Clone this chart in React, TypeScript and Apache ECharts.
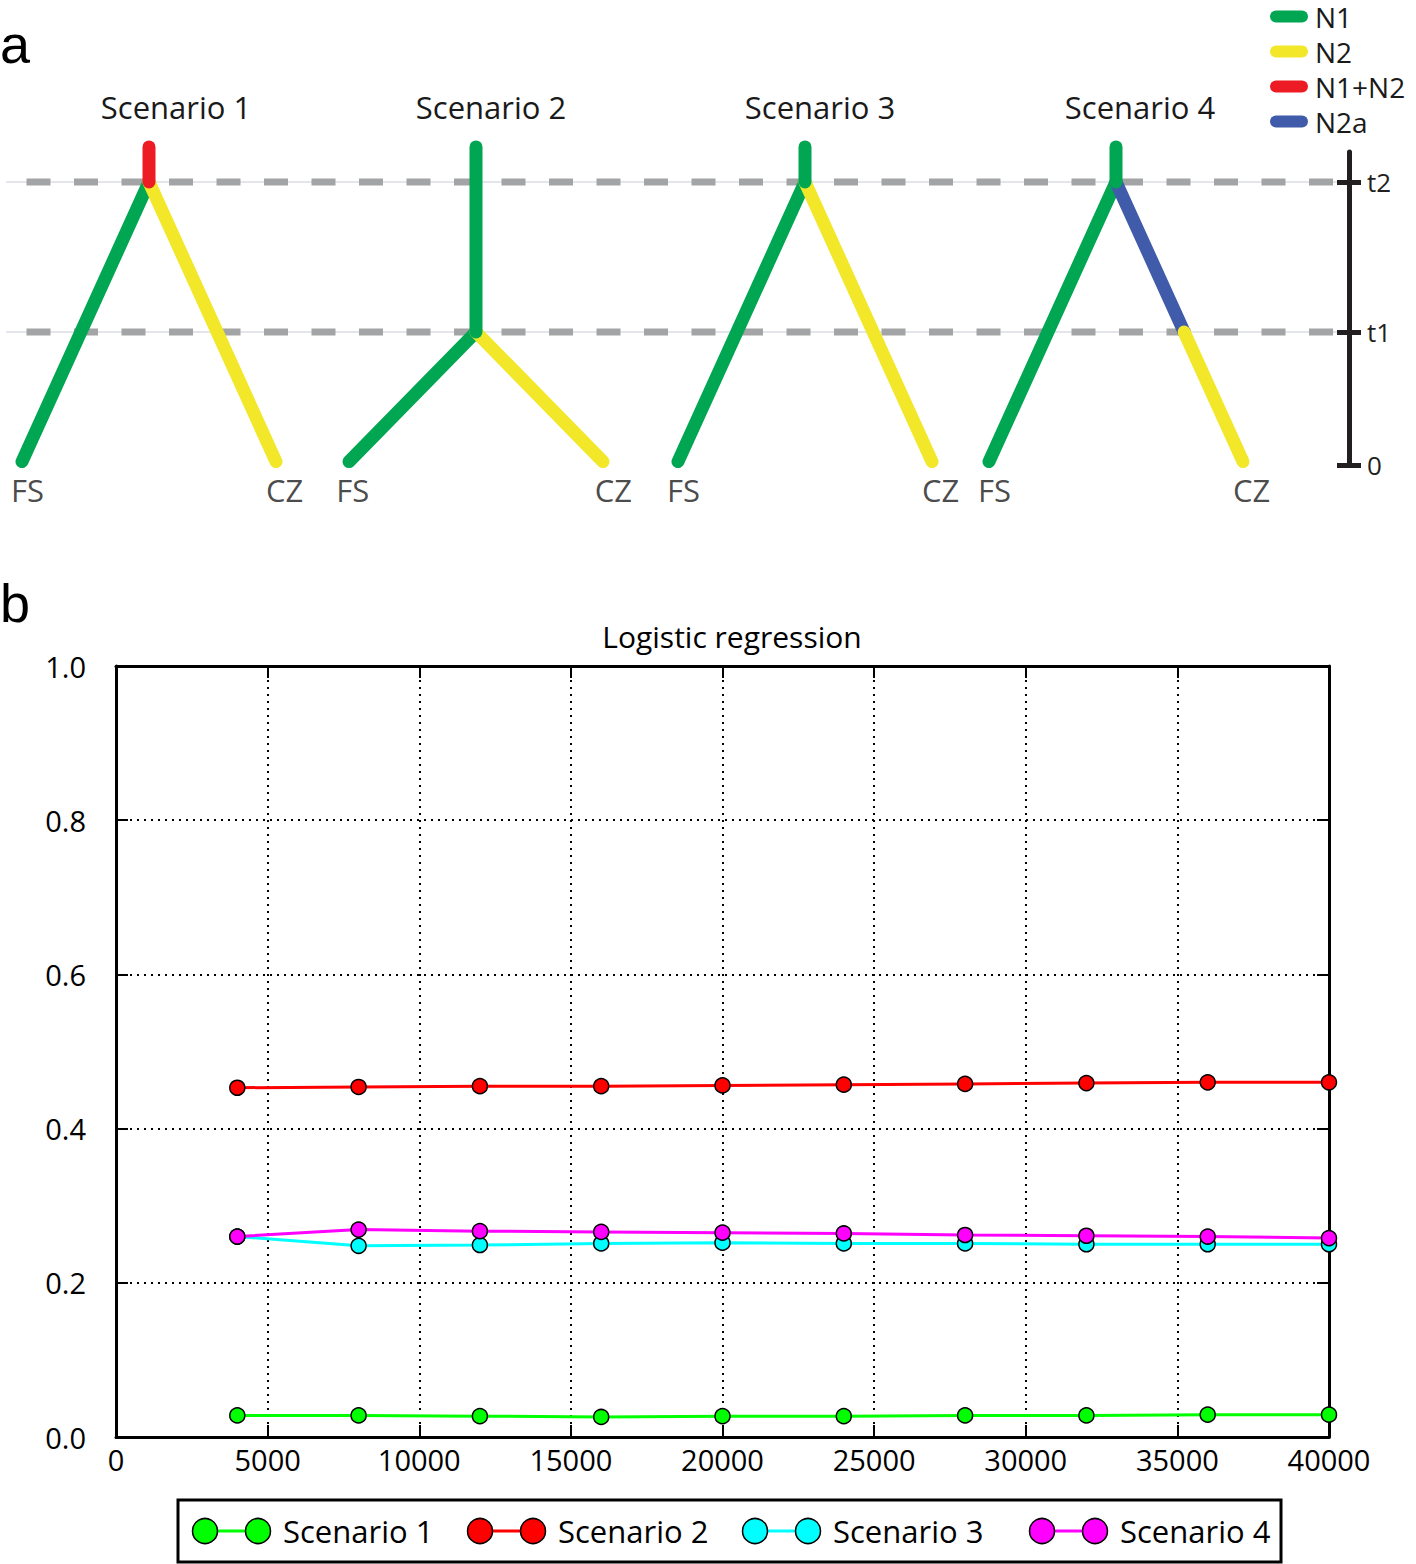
import React, { useEffect, useRef } from 'react';
import * as echarts from 'echarts';

const FONT = '"Open Sans", "Noto Sans", sans-serif';

// ---------- Panel a data ----------
const lineageNames = ['N1', 'N2', 'N1+N2', 'N2a'];
const lineageColors = ['#00a651', '#f2e829', '#ed1c24', '#3f5ba9'];
const timeValues = [0, 0.47, 1.0];
const timeLabels = ['0', 't1', 't2'];
const stemTopTime = 1.124;
const leafTime = 0.012;
const scenarioTitles = ['Scenario 1', 'Scenario 2', 'Scenario 3', 'Scenario 4'];
const scenarioSplitTime = [1.0, 0.47, 1.0, 1.0];
const scenarioStemLineage = ['N1+N2', 'N1', 'N1', 'N1'];
const scenarioFsLineage = ['N1', 'N1', 'N1', 'N1'];
const scenarioCzSegments: [string, number, number][][] = [
  [['N2', 1.0, leafTime]],
  [['N2', 0.47, leafTime]],
  [['N2', 1.0, leafTime]],
  [['N2a', 1.0, 0.47], ['N2', 0.47, leafTime]],
];
const leafLabels = ['FS', 'CZ'];

// ---------- Panel b data ----------
const sampleSizes = [4000, 8000, 12000, 16000, 20000, 24000, 28000, 32000, 36000, 40000];
const seriesNames = ['Scenario 1', 'Scenario 2', 'Scenario 3', 'Scenario 4'];
const scenario1Values = [0.028, 0.028, 0.027, 0.026, 0.027, 0.027, 0.028, 0.028, 0.029, 0.029];
const scenario2Values = [0.453, 0.454, 0.455, 0.455, 0.456, 0.457, 0.458, 0.459, 0.46, 0.46];
const scenario3Values = [0.26, 0.248, 0.249, 0.251, 0.252, 0.251, 0.251, 0.25, 0.25, 0.25];
const scenario4Values = [0.26, 0.269, 0.267, 0.266, 0.265, 0.264, 0.262, 0.261, 0.26, 0.258];
const seriesColors = ['#00ff00', '#ff0000', '#00ffff', '#ff00ff'];
const xTicks = { min: 0, max: 40000, interval: 5000 };
const yTicks = { min: 0, max: 1, interval: 0.2 };

// ---------- layout ----------
const scenarioCenters = [149, 476, 805, 1116];
const branchHalf = 127;
const titleX = [176, 491, 820, 1140];

function colorOf(name: string) {
  return lineageColors[lineageNames.indexOf(name)];
}

function branchX(cx: number, side: number, split: number, t: number) {
  return cx + side * branchHalf * (split - t) / (split - leafTime);
}

function treeSegment(name: string, pts: number[][]) {
  const c = colorOf(name);
  return {
    type: 'line',
    name,
    xAxisIndex: 0,
    yAxisIndex: 0,
    data: pts,
    showSymbol: false,
    symbol: 'none',
    clip: false,
    silent: true,
    itemStyle: { color: c },
    lineStyle: { color: c, width: 13, cap: 'round', join: 'round' },
    z: 5,
  };
}

export default function App() {
  const ref = useRef<HTMLDivElement>(null);

  useEffect(() => {
    if (!ref.current) return;
    const chart = echarts.init(ref.current, undefined, { renderer: 'svg' });

    const series: any[] = [];

    // dashed time guides
    [timeValues[2], timeValues[1]].forEach((t) => {
      series.push({
        type: 'line', xAxisIndex: 0, yAxisIndex: 0, silent: true, symbol: 'none', clip: false,
        data: [[6, t], [1337, t]],
        lineStyle: { color: '#c9ccd6', width: 1 }, z: 1,
      });
      series.push({
        type: 'line', xAxisIndex: 0, yAxisIndex: 0, silent: true, symbol: 'none', clip: false,
        data: [[6, t], [1336, t]],
        lineStyle: { color: '#a3a4a6', width: 7, type: [24, 23.5], dashOffset: 26.5 }, z: 2,
      });
    });

    // trees
    scenarioCenters.forEach((cx, i) => {
      const split = scenarioSplitTime[i];
      series.push(treeSegment(scenarioFsLineage[i], [
        [cx, split], [branchX(cx, -1, split, leafTime), leafTime],
      ]));
      scenarioCzSegments[i].forEach(([name, t0, t1]) => {
        series.push(treeSegment(name, [
          [branchX(cx, 1, split, t0), t0], [branchX(cx, 1, split, t1), t1],
        ]));
      });
      series.push(treeSegment(scenarioStemLineage[i], [[cx, split], [cx, stemTopTime]]));
    });

    // leaf labels
    const leafData: any[] = [];
    scenarioCenters.forEach((cx, i) => {
      const split = scenarioSplitTime[i];
      leafData.push([branchX(cx, -1, split, 0), 0, leafLabels[0]]);
      leafData.push([branchX(cx, 1, split, 0), 0, leafLabels[1]]);
    });
    series.push({
      type: 'scatter', xAxisIndex: 0, yAxisIndex: 0, silent: true, clip: false,
      data: leafData, symbolSize: 1, itemStyle: { color: 'rgba(0,0,0,0)' },
      label: {
        show: true, position: 'inside', offset: [7, 25],
        formatter: (p: any) => p.value[2],
        fontSize: 31, fontFamily: FONT, color: '#1a1a1a',
      },
    });

    // panel b series
    const values = [scenario1Values, scenario2Values, scenario3Values, scenario4Values];
    values.forEach((vals, i) => {
      series.push({
        type: 'line', name: seriesNames[i], xAxisIndex: 1, yAxisIndex: 2,
        data: sampleSizes.map((x, j) => [x, vals[j]]),
        symbol: 'circle', symbolSize: 15, showSymbol: true,
        lineStyle: { color: seriesColors[i], width: 3 },
        itemStyle: { color: seriesColors[i], borderColor: '#000', borderWidth: 1.5 },
        z: 3 + i,
      });
    });

    const dotted = { show: true, lineStyle: { color: '#000', width: 2, type: [2, 5] } };

    const legendGraphic: any[] = [
      {
        type: 'rect', shape: { x: 178, y: 1500, width: 1103, height: 62 },
        style: { fill: '#fff', stroke: '#000', lineWidth: 3 },
      },
    ];
    const legendIconX = [205, 480, 755, 1042];
    legendIconX.forEach((x0, i) => {
      legendGraphic.push({
        type: 'line', shape: { x1: x0, y1: 1531, x2: x0 + 53, y2: 1531 },
        style: { stroke: seriesColors[i], lineWidth: 3 },
      });
      [x0, x0 + 53].forEach((cx) => {
        legendGraphic.push({
          type: 'circle', shape: { cx, cy: 1531, r: 12.5 },
          style: { fill: seriesColors[i], stroke: '#000', lineWidth: 1.5 },
        });
      });
      legendGraphic.push({
        type: 'text', x: x0 + 78, y: 1531,
        style: {
          text: seriesNames[i], fontSize: 31, fontFamily: FONT, fill: '#000',
          textAlign: 'left', textVerticalAlign: 'middle',
        },
      });
    });

    const option: any = {
      animation: false,
      backgroundColor: '#ffffff',
      textStyle: { fontFamily: FONT },
      legend: {
        data: lineageNames,
        orient: 'vertical',
        left: 1270,
        top: 2,
        padding: 0,
        itemGap: 6,
        itemWidth: 38,
        itemHeight: 12,
        selectedMode: false,
        icon: 'path://M6,0 L32,0 A6,6 0 0 1 32,12 L6,12 A6,6 0 0 1 6,0 Z',
        textStyle: { fontSize: 28, lineHeight: 29, fontFamily: FONT, color: '#1a1a1a', padding: [0, 0, 0, 2] },
      },
      grid: [
        { left: 0, top: 152, width: 1349, height: 313 },
        { left: 116, top: 666, width: 1213, height: 771 },
      ],
      xAxis: [
        { type: 'value', gridIndex: 0, min: 0, max: 1349, show: false },
        {
          type: 'value', gridIndex: 1, min: xTicks.min, max: xTicks.max, interval: xTicks.interval,
          axisLine: { show: true, onZero: false, lineStyle: { color: '#000', width: 3 } },
          axisTick: { show: true, inside: true, length: 12, lineStyle: { color: '#000', width: 2 } },
          axisLabel: { fontSize: 29, fontFamily: FONT, color: '#000', margin: 8, formatter: (v: number) => String(v) },
          splitLine: dotted,
        },
        {
          type: 'value', gridIndex: 1, position: 'top', min: xTicks.min, max: xTicks.max, interval: xTicks.interval,
          axisLine: { show: true, onZero: false, lineStyle: { color: '#000', width: 3 } },
          axisTick: { show: true, inside: true, length: 12, lineStyle: { color: '#000', width: 2 } },
          axisLabel: { show: false },
          splitLine: { show: false },
        },
      ],
      yAxis: [
        {
          type: 'value', gridIndex: 0, position: 'right', min: 0, max: 1.106,
          axisLine: { show: true, onZero: false, lineStyle: { color: '#231f20', width: 5 } },
          axisTick: { show: true, customValues: timeValues, length: 12, lineStyle: { color: '#231f20', width: 5 } },
          axisLabel: {
            show: true, customValues: timeValues, margin: 18, fontSize: 26, fontFamily: FONT, color: '#231f20',
            padding: [0, 0, 8, 0],
            formatter: (v: number) => {
              let best = 0;
              timeValues.forEach((tv, k) => { if (Math.abs(tv - v) < Math.abs(timeValues[best] - v)) best = k; });
              return timeLabels[best];
            },
          },
          splitLine: { show: false },
        },
        {
          type: 'value', gridIndex: 0, position: 'right', min: 0, max: 1.106,
          axisLine: { show: false, onZero: false },
          axisTick: { show: true, inside: true, customValues: timeValues, length: 12, lineStyle: { color: '#231f20', width: 5 } },
          axisLabel: { show: false },
          splitLine: { show: false },
        },
        {
          type: 'value', gridIndex: 1, min: yTicks.min, max: yTicks.max, interval: yTicks.interval,
          axisLine: { show: true, onZero: false, lineStyle: { color: '#000', width: 3 } },
          axisTick: { show: true, inside: true, length: 12, lineStyle: { color: '#000', width: 2 } },
          axisLabel: { fontSize: 29, fontFamily: FONT, color: '#000', margin: 30, formatter: (v: number) => v.toFixed(1) },
          splitLine: dotted,
        },
        {
          type: 'value', gridIndex: 1, position: 'right', min: yTicks.min, max: yTicks.max, interval: yTicks.interval,
          axisLine: { show: true, onZero: false, lineStyle: { color: '#000', width: 3 } },
          axisTick: { show: true, inside: true, length: 12, lineStyle: { color: '#000', width: 2 } },
          axisLabel: { show: false },
          splitLine: { show: false },
        },
      ],
      graphic: [
        {
          type: 'text', x: 0, y: 44,
          style: { text: 'a', fontSize: 54, fontFamily: '"Liberation Sans", Arial, sans-serif', fill: '#000', textVerticalAlign: 'middle' },
        },
        {
          type: 'text', x: 0, y: 603,
          style: { text: 'b', fontSize: 54, fontFamily: '"Liberation Sans", Arial, sans-serif', fill: '#000', textVerticalAlign: 'middle' },
        },
        ...scenarioTitles.map((t, i) => ({
          type: 'text', x: titleX[i], y: 107,
          style: { text: t, fontSize: 31, fontFamily: FONT, fill: '#1a1a1a', textAlign: 'center', textVerticalAlign: 'middle' },
        })),
        {
          type: 'text', x: 732, y: 636,
          style: { text: 'Logistic regression', fontSize: 30, fontFamily: FONT, fill: '#000', textAlign: 'center', textVerticalAlign: 'middle' },
        },
        ...legendGraphic,
      ],
      series,
    };

    chart.setOption(option);
    return () => chart.dispose();
  }, []);

  return (
    <div
      ref={ref}
      style={{ position: 'absolute', left: 0, top: 0, width: 1416, height: 1564, background: '#fff' }}
    />
  );
}
